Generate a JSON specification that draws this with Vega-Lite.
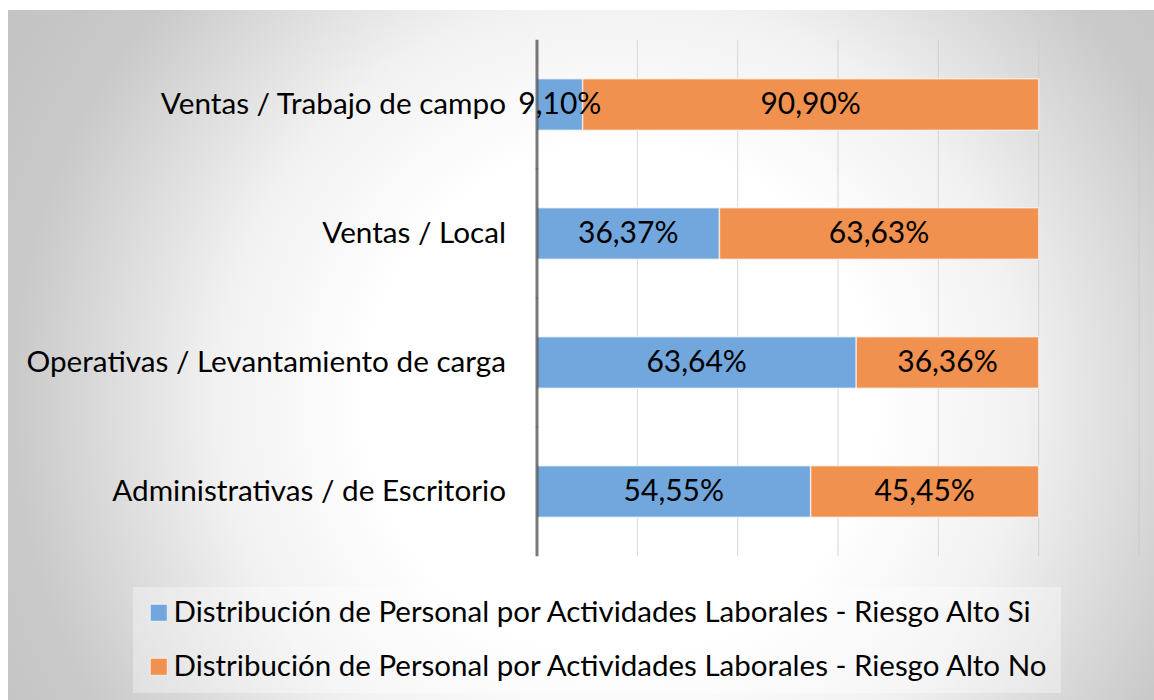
{
  "$schema": "https://vega.github.io/schema/vega-lite/v6.json",
  "width": 1154,
  "height": 700,
  "autosize": {"type": "fit", "contains": "padding"},
  "padding": {"top": 10, "left": 8, "right": 0, "bottom": 0},
  "background": "white",
  "config": {
    "view": {
      "stroke": null,
      "fill": {
        "gradient": "radial",
        "x1": 0.534, "y1": 0.539, "r1": 0,
        "x2": 0.534, "y2": 0.539, "r2": 0.63,
        "stops": [
          {"offset": 0, "color": "#ffffff"},
          {"offset": 0.35, "color": "#ffffff"},
          {"offset": 0.56, "color": "#f1f1f1"},
          {"offset": 0.84, "color": "#c9c9c9"},
          {"offset": 1, "color": "#c3c3c3"}
        ]
      }
    }
  },
  "datasets": {
    "barras": [
      {"cat": "Ventas / Trabajo de campo", "serie": "Distribución de Personal por Actividades Laborales - Riesgo Alto Si", "orden": 1, "valor": 0.091, "etiqueta": "9,10%"},
      {"cat": "Ventas / Trabajo de campo", "serie": "Distribución de Personal por Actividades Laborales - Riesgo Alto No", "orden": 2, "valor": 0.909, "etiqueta": "90,90%"},
      {"cat": "Ventas / Local", "serie": "Distribución de Personal por Actividades Laborales - Riesgo Alto Si", "orden": 1, "valor": 0.3637, "etiqueta": "36,37%"},
      {"cat": "Ventas / Local", "serie": "Distribución de Personal por Actividades Laborales - Riesgo Alto No", "orden": 2, "valor": 0.6363, "etiqueta": "63,63%"},
      {"cat": "Operativas / Levantamiento de carga", "serie": "Distribución de Personal por Actividades Laborales - Riesgo Alto Si", "orden": 1, "valor": 0.6364, "etiqueta": "63,64%"},
      {"cat": "Operativas / Levantamiento de carga", "serie": "Distribución de Personal por Actividades Laborales - Riesgo Alto No", "orden": 2, "valor": 0.3636, "etiqueta": "36,36%"},
      {"cat": "Administrativas / de Escritorio", "serie": "Distribución de Personal por Actividades Laborales - Riesgo Alto Si", "orden": 1, "valor": 0.5455, "etiqueta": "54,55%"},
      {"cat": "Administrativas / de Escritorio", "serie": "Distribución de Personal por Actividades Laborales - Riesgo Alto No", "orden": 2, "valor": 0.4545, "etiqueta": "45,45%"}
    ],
    "rejilla": [
      {"cat": "Ventas / Trabajo de campo", "g": [0, 0.2, 0.4, 0.6, 0.8, 1.0, 1.2]},
      {"cat": "Ventas / Local", "g": [0, 0.2, 0.4, 0.6, 0.8, 1.0, 1.2]},
      {"cat": "Operativas / Levantamiento de carga", "g": [0, 0.2, 0.4, 0.6, 0.8, 1.0, 1.2]},
      {"cat": "Administrativas / de Escritorio", "g": [0, 0.2, 0.4, 0.6, 0.8, 1.0, 1.2]}
    ]
  },
  "encoding": {
    "y": {
      "field": "cat", "type": "nominal", "axis": null,
      "scale": {
        "domain": ["Ventas / Trabajo de campo", "Ventas / Local", "Operativas / Levantamiento de carga", "Administrativas / de Escritorio"],
        "range": [30, 546], "paddingInner": 0.6, "paddingOuter": 0.3
      }
    }
  },
  "layer": [
    {
      "data": {"name": "rejilla"},
      "transform": [{"flatten": ["g"]}, {"filter": "datum.g > 0"}],
      "mark": {"type": "tick", "orient": "vertical", "color": "#c8c8c8", "thickness": 1, "size": 129.5},
      "encoding": {
        "x": {"field": "g", "type": "quantitative", "axis": null, "scale": {"domain": [-1.05449, 1.2299], "nice": false, "zero": false}}
      }
    },
    {
      "data": {"name": "barras"},
      "mark": {"type": "bar", "stroke": "rgba(255,255,255,0.6)", "strokeWidth": 1.5},
      "encoding": {
        "x": {"field": "valor", "type": "quantitative", "stack": "zero", "axis": null},
        "color": {
          "field": "serie", "type": "nominal",
          "scale": {
            "domain": ["Distribución de Personal por Actividades Laborales - Riesgo Alto Si", "Distribución de Personal por Actividades Laborales - Riesgo Alto No"],
            "range": ["#71a7dc", "#f0914f"]
          },
          "legend": {
            "title": null,
            "orient": "none",
            "legendX": 125,
            "legendY": 577,
            "direction": "vertical",
            "symbolType": "square",
            "symbolSize": 289,
            "symbolStrokeColor": "rgba(255,255,255,0.7)",
            "symbolStrokeWidth": 1,
            "labelFont": "Lato",
            "labelFontSize": 29.5,
            "labelColor": "#000000",
            "labelOffset": 0,
            "labelLimit": 2000,
            "rowPadding": 23,
            "padding": 11,
            "fillColor": "rgba(255,255,255,0.35)",
            "strokeColor": null
          }
        },
        "order": {"field": "orden", "type": "quantitative"}
      }
    },
    {
      "data": {"name": "rejilla"},
      "transform": [{"flatten": ["g"]}, {"filter": "datum.g === 0"}],
      "mark": {"type": "tick", "orient": "vertical", "color": "#404040", "thickness": 3, "size": 129.5},
      "encoding": {
        "x": {"field": "g", "type": "quantitative"}
      }
    },
    {
      "data": {"name": "barras"},
      "mark": {"type": "text", "font": "Lato", "fontSize": 30, "color": "#000000", "align": "center", "baseline": "middle"},
      "encoding": {
        "x": {"field": "valor", "type": "quantitative", "stack": "zero", "bandPosition": 0.5},
        "detail": {"field": "serie"},
        "order": {"field": "orden", "type": "quantitative"},
        "text": {"field": "etiqueta"}
      }
    },
    {
      "data": {"name": "barras"},
      "transform": [{"filter": "datum.orden === 1"}],
      "mark": {"type": "text", "font": "Lato", "fontSize": 29.7, "color": "#000000", "align": "right", "baseline": "middle", "dx": -31},
      "encoding": {
        "x": {"datum": 0, "type": "quantitative"},
        "text": {"field": "cat"}
      }
    }
  ]
}
